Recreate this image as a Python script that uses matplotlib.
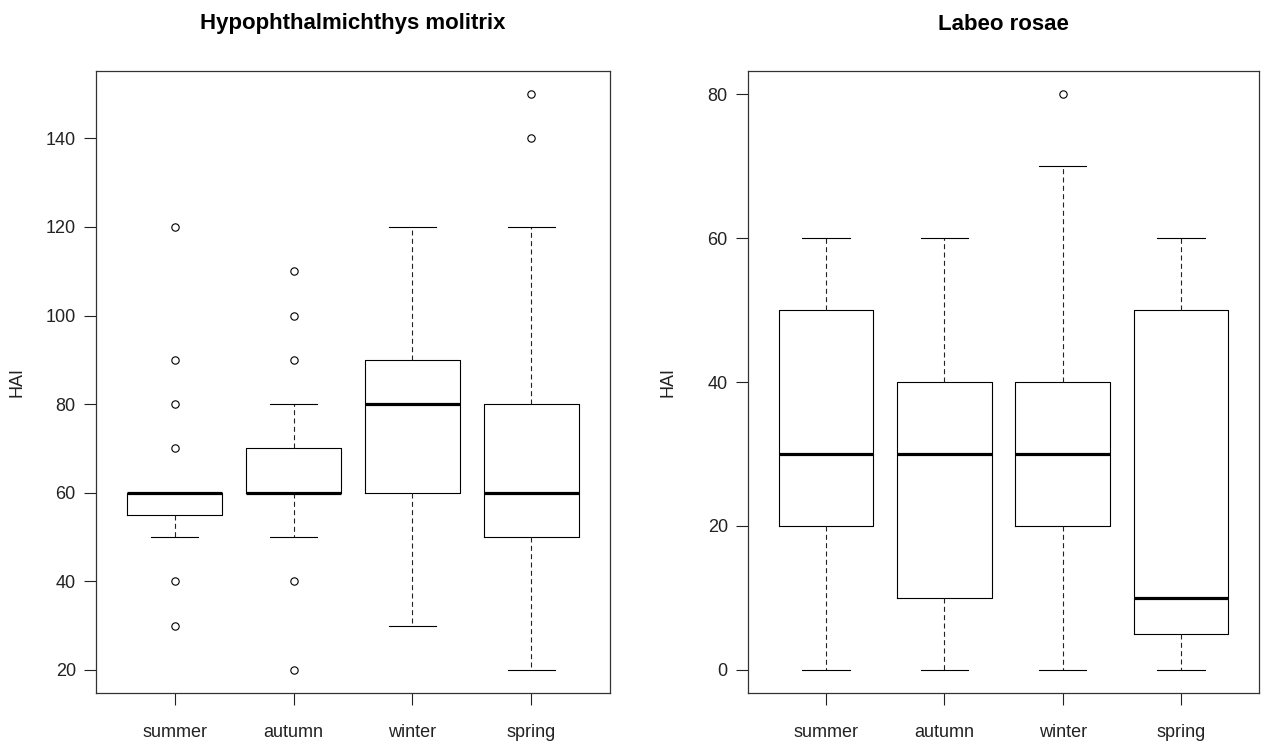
import matplotlib.pyplot as plt

plt.rcParams['font.family'] = ['Liberation Sans', 'DejaVu Sans']

seasons = ['summer', 'autumn', 'winter', 'spring']

# Hypophthalmichthys molitrix
hm_q1 = [55, 60, 60, 50]
hm_med = [60, 60, 80, 60]
hm_q3 = [60, 70, 90, 80]
hm_lo = [50, 50, 30, 20]
hm_hi = [60, 80, 120, 120]
hm_out = [[120, 90, 80, 70, 40, 30], [110, 100, 90, 40, 20], [], [150, 140]]

# Labeo rosae
lr_q1 = [20, 10, 20, 5]
lr_med = [30, 30, 30, 10]
lr_q3 = [50, 40, 40, 50]
lr_lo = [0, 0, 0, 0]
lr_hi = [60, 60, 70, 60]
lr_out = [[], [], [80], []]


def make_stats(q1, med, q3, lo, hi, out):
    return [dict(label=s, q1=a, med=m, q3=b, whislo=l, whishi=h, fliers=f)
            for s, a, m, b, l, h, f in zip(seasons, q1, med, q3, lo, hi, out)]


def draw(ax, stats, title, ylim, yticks, label_x):
    ax.bxp(stats, widths=0.8, showfliers=True,
           boxprops=dict(color='black', linewidth=0.8),
           medianprops=dict(color='black', linewidth=2.3, solid_capstyle='butt'),
           whiskerprops=dict(color='#222222', linewidth=0.8, linestyle=(0, (4.5, 3))),
           capprops=dict(color='black', linewidth=0.8),
           flierprops=dict(marker='o', markerfacecolor='none', markeredgecolor='black',
                           markersize=5.3, markeredgewidth=0.8))
    ax.set_xlim(0.34, 4.66)
    ax.set_ylim(*ylim)
    ax.set_yticks(yticks)
    ax.tick_params(axis='both', labelsize=13, length=8.5, width=0.8, colors='#222222', pad=6)
    ax.tick_params(axis='x', pad=14)
    for sp in ax.spines.values():
        sp.set_color('#333333')
        sp.set_linewidth(0.9)
    ax.set_ylabel('HAI', fontsize=13, color='#222222')
    ax.yaxis.set_label_coords(label_x, 0.5)
    ax.text(0.5, 1 + 47 / 622, title, transform=ax.transAxes, ha='center', va='center',
            fontsize=16, fontweight='bold')


fig = plt.figure(figsize=(12.61, 7.42), dpi=100)
ax1 = fig.add_axes([96 / 1261, 1 - 693 / 742, 514 / 1261, 622 / 742])
ax2 = fig.add_axes([748 / 1261, 1 - 693 / 742, 511 / 1261, 622 / 742])

draw(ax1, make_stats(hm_q1, hm_med, hm_q3, hm_lo, hm_hi, hm_out),
     'Hypophthalmichthys molitrix', (14.8, 155.2), [20, 40, 60, 80, 100, 120, 140], (26 - 96) / 514)
draw(ax2, make_stats(lr_q1, lr_med, lr_q3, lr_lo, lr_hi, lr_out),
     'Labeo rosae', (-3.2, 83.2), [0, 20, 40, 60, 80], (677 - 748) / 511)

plt.savefig('out.png', dpi=100)
plt.close()
